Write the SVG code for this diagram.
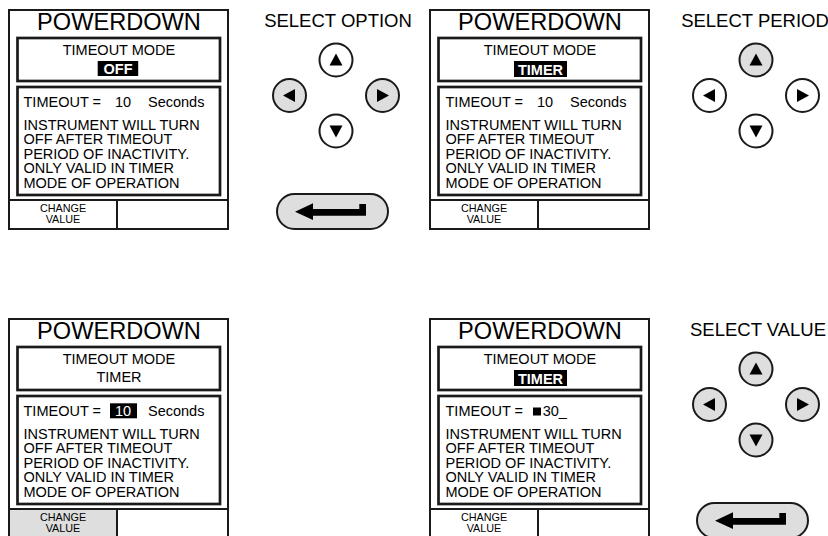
<svg xmlns="http://www.w3.org/2000/svg" xmlns:xlink="http://www.w3.org/1999/xlink" width="828" height="536" viewBox="0 0 828 536">
<style>
text{font-family:"Liberation Sans",Arial,Helvetica,sans-serif;fill:#000}
.frame{fill:#fff;stroke:#1a1a1a;stroke-width:2}
.box{fill:none;stroke:#1a1a1a;stroke-width:2.7}
.ln{stroke:#1a1a1a;stroke-width:2;fill:none}
.title{font-size:23.6px;text-anchor:middle}
.t{font-size:14.5px}
.mid{text-anchor:middle}
.inv{font-size:14.5px;font-weight:bold;fill:#fff;text-anchor:middle}
.soft{font-size:10.8px;text-anchor:middle}
.lbl{font-size:18.5px;text-anchor:middle}
.btn{stroke:#1a1a1a;stroke-width:2;fill:#fff}
.on{fill:#dedede}
.tri{fill:#000}
</style>
<defs>
<path id="triU" d="M0,-6.5 L6.5,5.5 L-6.5,5.5 Z"/>
<path id="triD" d="M0,6.5 L6.5,-5.5 L-6.5,-5.5 Z"/>
<path id="triL" d="M-6.5,0 L5.5,-6.5 L5.5,6.5 Z"/>
<path id="triR" d="M6.5,0 L-5.5,-6.5 L-5.5,6.5 Z"/>
<path id="enterArrow" d="M18,17.7 L36,9.3 L36,15 L82.3,15 L82.3,10 L89,10 L89,21.7 L36,21.7 L36,26 Z"/>
</defs>

<g id="screen-off" transform="translate(9,10)">
<rect class="frame" x="0" y="0" width="219" height="219"/>
<text class="title" x="110" y="19.5">POWERDOWN</text>
<rect class="box" x="8.5" y="28" width="202.5" height="43"/>
<text class="t mid" x="110" y="45">TIMEOUT MODE</text>
<rect x="88.7" y="51" width="40.5" height="15" fill="#000"/>
<text class="inv" x="109" y="64">OFF</text>
<rect class="box" x="8.5" y="77" width="202.5" height="108"/>
<text class="t" x="14.5" y="96.7">TIMEOUT =</text>
<text class="t" x="106" y="96.7">10</text>
<text class="t" x="139" y="96.7">Seconds</text>
<text class="t" x="14.5" y="119.5">INSTRUMENT WILL TURN</text>
<text class="t" x="14.5" y="134">OFF AFTER TIMEOUT</text>
<text class="t" x="14.5" y="148.5">PERIOD OF INACTIVITY.</text>
<text class="t" x="14.5" y="163">ONLY VALID IN TIMER</text>
<text class="t" x="14.5" y="177.5">MODE OF OPERATION</text>
<path class="ln" d="M0,190 H219 M108,190 V219"/>
<text class="soft" x="54" y="202">CHANGE</text>
<text class="soft" x="54" y="212.5">VALUE</text>
</g>

<g id="select-option" transform="translate(336,60)">
<text class="lbl" x="2" y="-33.3">SELECT OPTION</text>
<circle class="btn" cx="0" cy="0" r="16.5"/>
<use xlink:href="#triU" class="tri"/>
<circle class="btn on" cx="-46.5" cy="35.5" r="16.5"/>
<use xlink:href="#triL" class="tri" x="-46.5" y="35.5"/>
<circle class="btn on" cx="46.5" cy="35.5" r="16.5"/>
<use xlink:href="#triR" class="tri" x="46.5" y="35.5"/>
<circle class="btn" cx="0" cy="71" r="16.5"/>
<use xlink:href="#triD" class="tri" x="0" y="71"/>
</g>

<g id="enter-1" transform="translate(277,194)">
<rect class="btn on" x="0" y="0" width="111" height="35" rx="17.5"/>
<use xlink:href="#enterArrow" class="tri"/>
</g>

<g id="screen-timer" transform="translate(430,10)">
<rect class="frame" x="0" y="0" width="219" height="219"/>
<text class="title" x="110" y="19.5">POWERDOWN</text>
<rect class="box" x="8.5" y="28" width="202.5" height="43"/>
<text class="t mid" x="110" y="45">TIMEOUT MODE</text>
<rect x="84" y="51" width="53" height="16" fill="#000"/>
<text class="inv" x="110.5" y="64.5">TIMER</text>
<rect class="box" x="8.5" y="77" width="202.5" height="108"/>
<text class="t" x="15.5" y="96.7">TIMEOUT =</text>
<text class="t" x="107" y="96.7">10</text>
<text class="t" x="140" y="96.7">Seconds</text>
<text class="t" x="15.5" y="119.5">INSTRUMENT WILL TURN</text>
<text class="t" x="15.5" y="134">OFF AFTER TIMEOUT</text>
<text class="t" x="15.5" y="148.5">PERIOD OF INACTIVITY.</text>
<text class="t" x="15.5" y="163">ONLY VALID IN TIMER</text>
<text class="t" x="15.5" y="177.5">MODE OF OPERATION</text>
<path class="ln" d="M0,190 H219 M108,190 V219"/>
<text class="soft" x="54" y="202">CHANGE</text>
<text class="soft" x="54" y="212.5">VALUE</text>
</g>

<g id="select-period" transform="translate(756,60)">
<text class="lbl" x="-1" y="-33.3">SELECT PERIOD</text>
<circle class="btn on" cx="0" cy="0" r="16.5"/>
<use xlink:href="#triU" class="tri"/>
<circle class="btn" cx="-46.5" cy="35.5" r="16.5"/>
<use xlink:href="#triL" class="tri" x="-46.5" y="35.5"/>
<circle class="btn" cx="46.5" cy="35.5" r="16.5"/>
<use xlink:href="#triR" class="tri" x="46.5" y="35.5"/>
<circle class="btn" cx="0" cy="71" r="16.5"/>
<use xlink:href="#triD" class="tri" x="0" y="71"/>
</g>

<g id="screen-edit" transform="translate(9,319)">
<rect class="frame" x="0" y="0" width="219" height="219"/>
<rect class="on" x="1" y="190" width="107" height="28"/>
<text class="title" x="110" y="19.5">POWERDOWN</text>
<rect class="box" x="8.5" y="28" width="202.5" height="43"/>
<text class="t mid" x="110" y="45">TIMEOUT MODE</text>
<text class="t mid" x="110" y="63">TIMER</text>
<rect class="box" x="8.5" y="77" width="202.5" height="108"/>
<text class="t" x="14.5" y="96.7">TIMEOUT =</text>
<rect x="101" y="84.3" width="27" height="15" fill="#000"/>
<text class="t" x="106" y="96.7" style="fill:#fff">10</text>
<text class="t" x="139" y="96.7">Seconds</text>
<text class="t" x="14.5" y="119.5">INSTRUMENT WILL TURN</text>
<text class="t" x="14.5" y="134">OFF AFTER TIMEOUT</text>
<text class="t" x="14.5" y="148.5">PERIOD OF INACTIVITY.</text>
<text class="t" x="14.5" y="163">ONLY VALID IN TIMER</text>
<text class="t" x="14.5" y="177.5">MODE OF OPERATION</text>
<path class="ln" d="M0,190 H219 M108,190 V219"/>
<text class="soft" x="54" y="202">CHANGE</text>
<text class="soft" x="54" y="212.5">VALUE</text>
</g>

<g id="screen-value" transform="translate(430,319)">
<rect class="frame" x="0" y="0" width="219" height="219"/>
<text class="title" x="110" y="19.5">POWERDOWN</text>
<rect class="box" x="8.5" y="28" width="202.5" height="43"/>
<text class="t mid" x="110" y="45">TIMEOUT MODE</text>
<rect x="84" y="51" width="53" height="16" fill="#000"/>
<text class="inv" x="110.5" y="64.5">TIMER</text>
<rect class="box" x="8.5" y="77" width="202.5" height="108"/>
<text class="t" x="15.5" y="96.7">TIMEOUT =</text>
<rect x="103" y="88.5" width="8" height="8" fill="#000"/>
<text class="t" x="112.7" y="96.7">30_</text>
<text class="t" x="15.5" y="119.5">INSTRUMENT WILL TURN</text>
<text class="t" x="15.5" y="134">OFF AFTER TIMEOUT</text>
<text class="t" x="15.5" y="148.5">PERIOD OF INACTIVITY.</text>
<text class="t" x="15.5" y="163">ONLY VALID IN TIMER</text>
<text class="t" x="15.5" y="177.5">MODE OF OPERATION</text>
<path class="ln" d="M0,190 H219 M108,190 V219"/>
<text class="soft" x="54" y="202">CHANGE</text>
<text class="soft" x="54" y="212.5">VALUE</text>
</g>

<g id="select-value" transform="translate(756,369)">
<text class="lbl" x="2" y="-33.3">SELECT VALUE</text>
<circle class="btn on" cx="0" cy="0" r="16.5"/>
<use xlink:href="#triU" class="tri"/>
<circle class="btn on" cx="-46.5" cy="35.5" r="16.5"/>
<use xlink:href="#triL" class="tri" x="-46.5" y="35.5"/>
<circle class="btn on" cx="46.5" cy="35.5" r="16.5"/>
<use xlink:href="#triR" class="tri" x="46.5" y="35.5"/>
<circle class="btn on" cx="0" cy="71" r="16.5"/>
<use xlink:href="#triD" class="tri" x="0" y="71"/>
</g>

<g id="enter-2" transform="translate(697,503)">
<rect class="btn on" x="0" y="0" width="111" height="35" rx="17.5"/>
<use xlink:href="#enterArrow" class="tri"/>
</g>

<g id="connectors"/>
</svg>
